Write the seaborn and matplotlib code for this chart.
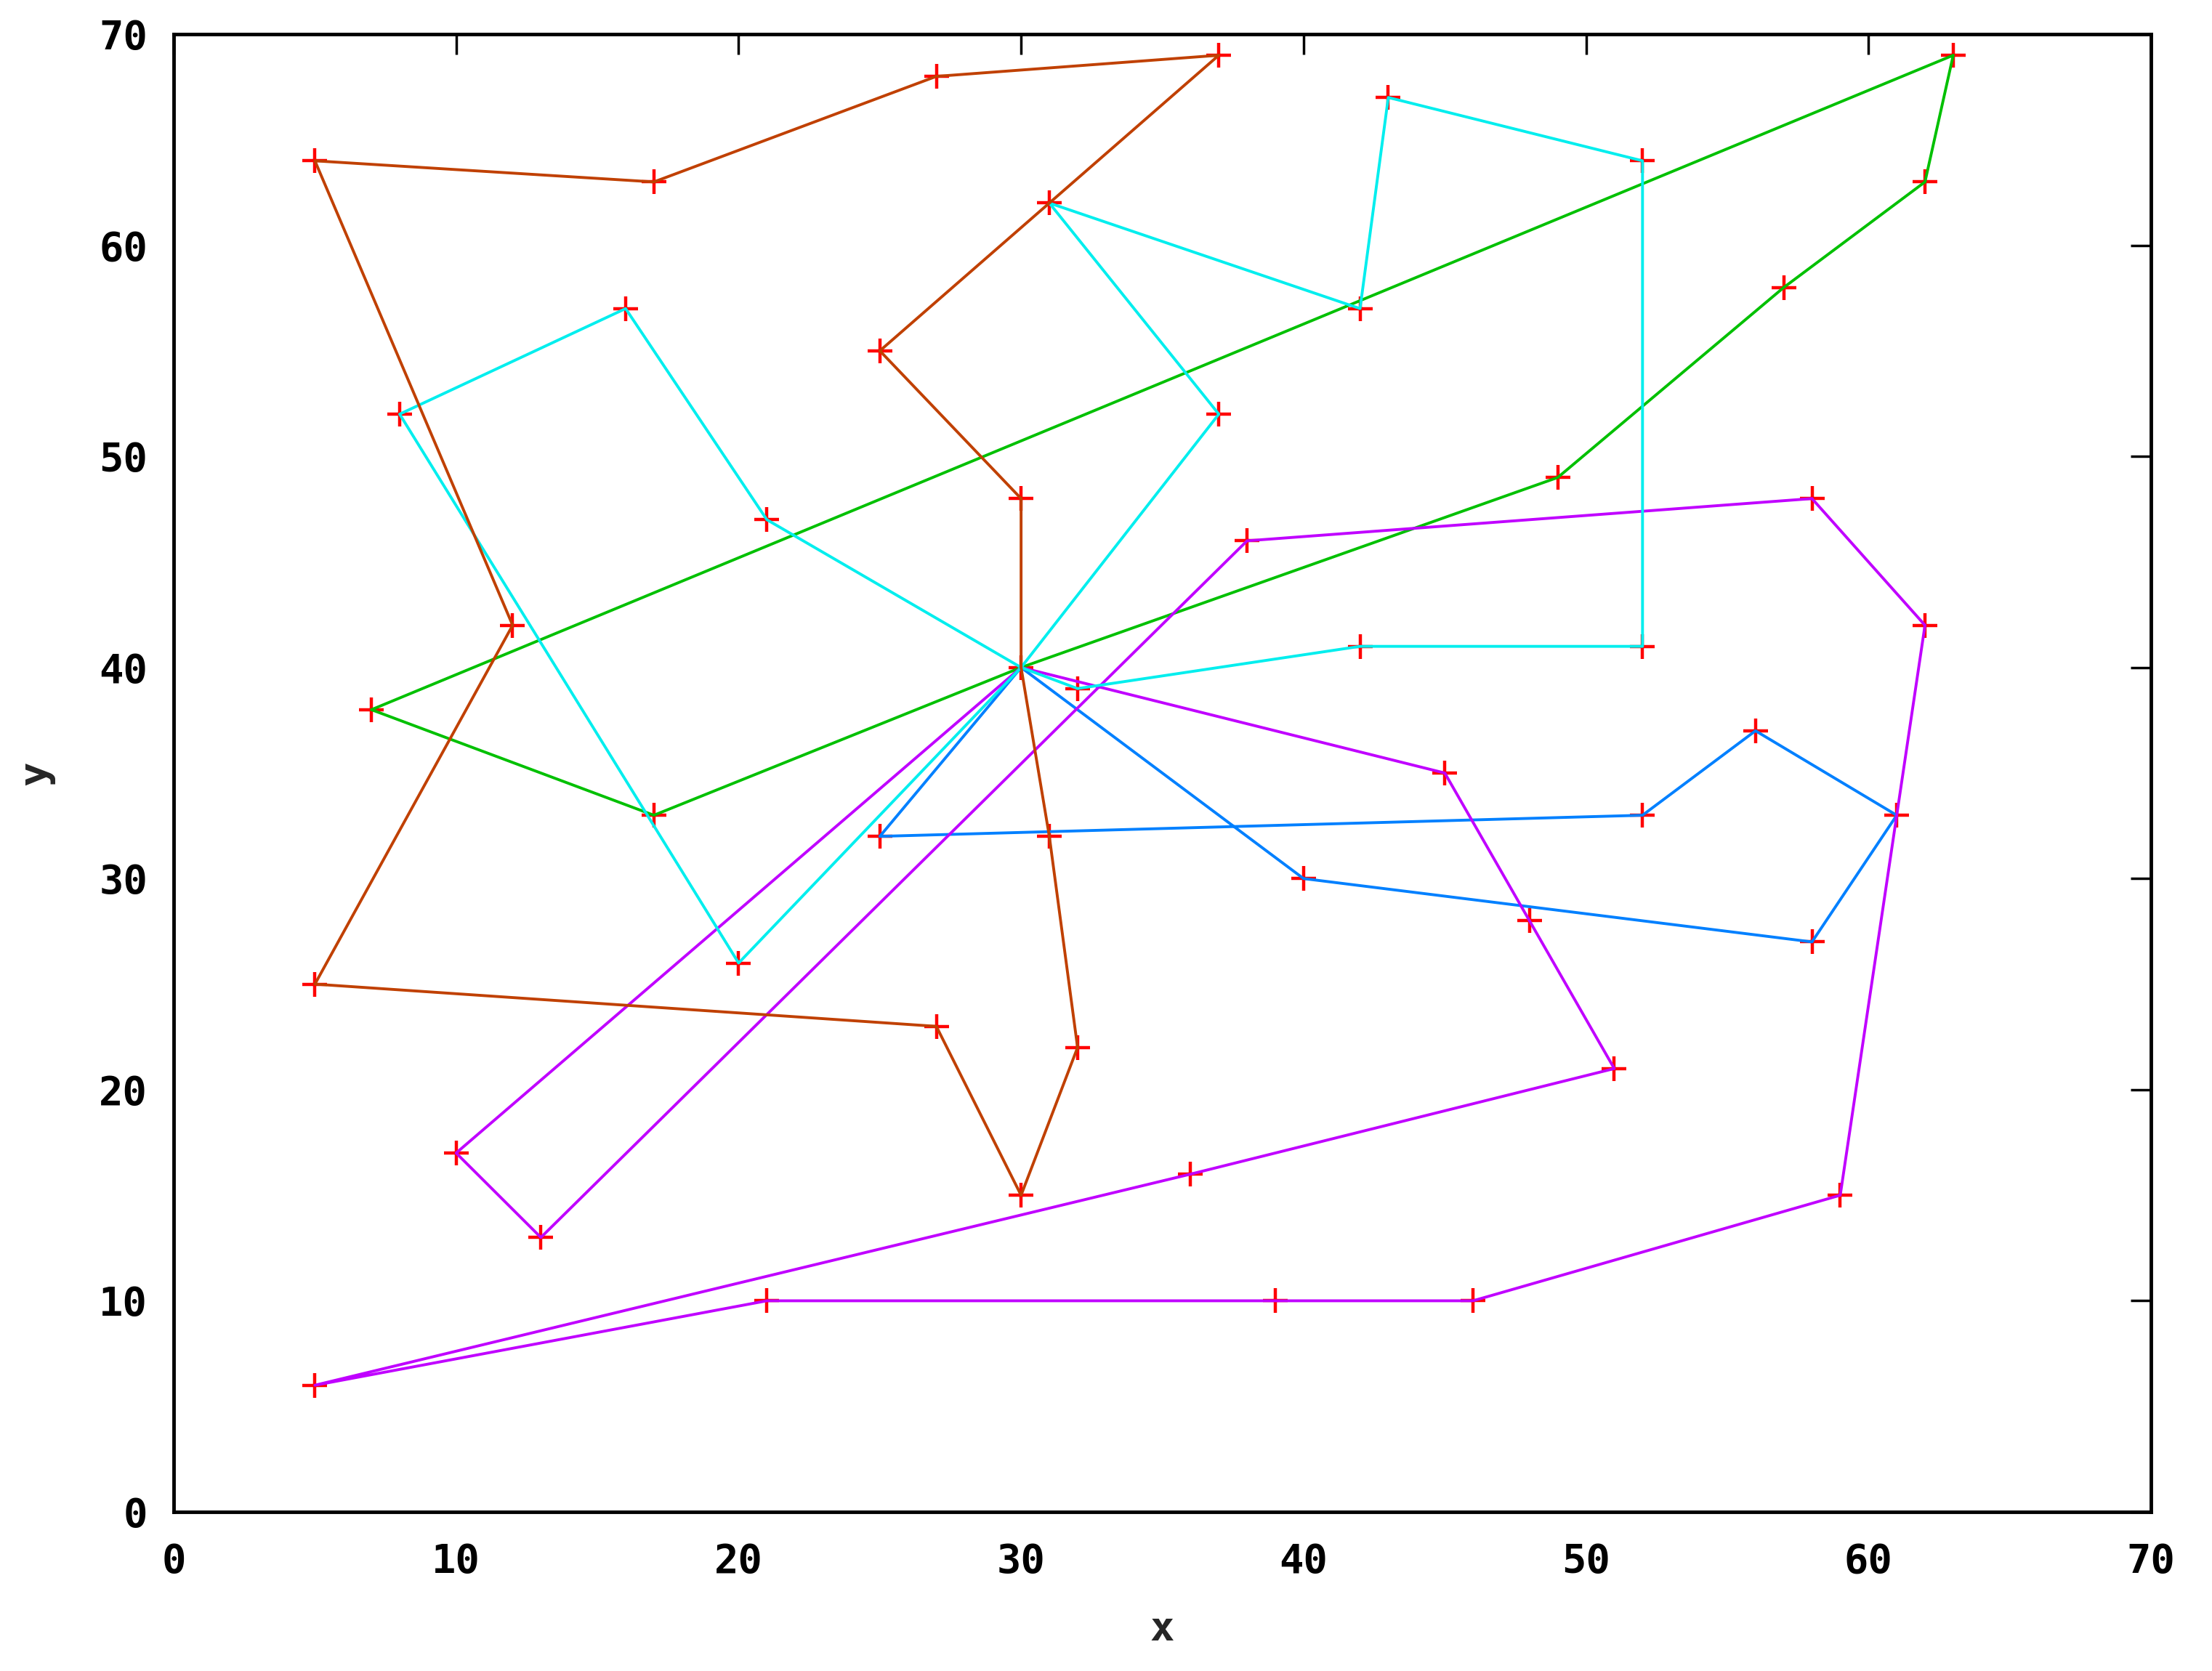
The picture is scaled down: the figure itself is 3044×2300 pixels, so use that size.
import matplotlib
matplotlib.use("Agg")
import matplotlib.pyplot as plt
import seaborn as sns
import pandas as pd

# ---- data: vehicle routes (depot at 30,40) ----
green_x = [30, 49, 57, 62, 63, 7, 17, 30]
green_y = [40, 49, 58, 63, 69, 38, 33, 40]

blue_x = [30, 40, 58, 61, 56, 52, 25, 30]
blue_y = [40, 30, 27, 33, 37, 33, 32, 40]

purple_x = [30, 45, 48, 51, 36, 5, 21, 39, 46, 59, 62, 58, 38, 13, 10, 30]
purple_y = [40, 35, 28, 21, 16, 6, 10, 10, 10, 15, 42, 48, 46, 13, 17, 40]

cyan_x = [30, 21, 16, 8, 20, 30, 37, 31, 42, 43, 52, 52, 42, 32, 30]
cyan_y = [40, 47, 57, 52, 26, 40, 52, 62, 57, 67, 64, 41, 41, 39, 40]

brown_x = [30, 30, 25, 31, 37, 27, 17, 5, 12, 5, 27, 30, 32, 31, 30]
brown_y = [40, 48, 55, 62, 69, 68, 63, 64, 42, 25, 23, 15, 22, 32, 40]

route_names = ["green", "blue", "purple", "cyan", "brown"]
route_colors = ["#00c000", "#0080ff", "#c000ff", "#00eeee", "#c04000"]
routes = [(green_x, green_y), (blue_x, blue_y), (purple_x, purple_y),
          (cyan_x, cyan_y), (brown_x, brown_y)]

ticks = [0, 10, 20, 30, 40, 50, 60, 70]

# ---- build tables ----
frames = []
for name, (xs, ys) in zip(route_names, routes):
    frames.append(pd.DataFrame({"x": xs, "y": ys, "route": name,
                                "order": range(len(xs))}))
lines_df = pd.concat(frames, ignore_index=True)
points_df = lines_df[["x", "y"]].drop_duplicates().reset_index(drop=True)

sns.set_theme(style="white")
plt.rcParams["font.family"] = ["DejaVu Sans Mono", "DejaVu Sans"]
plt.rcParams["font.weight"] = "bold"

fig = plt.figure(figsize=(30.44, 23.0), dpi=100)
ax = fig.add_axes([239 / 3044, 1 - 2081 / 2300, 2721 / 3044, 2034 / 2300])

sns.scatterplot(data=points_df, x="x", y="y", marker="+", color="#ff0000",
                s=600, linewidth=3.2, ax=ax, zorder=2, legend=False)

for name, col in zip(route_names, route_colors):
    sub = lines_df[lines_df["route"] == name]
    sns.lineplot(data=sub, x="x", y="y", sort=False, estimator=None,
                 color=col, linewidth=2.8, ax=ax, zorder=3, legend=False)

ax.set_xlim(0, 70)
ax.set_ylim(0, 70)
ax.set_xticks(ticks)
ax.set_yticks(ticks)
ax.set_xticklabels([str(t) for t in ticks])
ax.set_yticklabels([str(t) for t in ticks])
ax.tick_params(axis="both", which="major", direction="in", length=20, width=2.5,
               top=True, right=True, labelsize=40, colors="black")
ax.tick_params(axis="x", pad=30)
ax.tick_params(axis="y", pad=26)
for lab in ax.get_xticklabels() + ax.get_yticklabels():
    lab.set_fontweight("bold")
for sp in ax.spines.values():
    sp.set_visible(True)
    sp.set_color("black")
    sp.set_linewidth(3.5)
ax.grid(False)
ax.set_facecolor("white")

ax.set_xlabel("x", fontsize=40, fontweight="bold", va="center")
ax.set_ylabel("y", fontsize=40, fontweight="bold", va="center")
ax.xaxis.set_label_coords(0.5, -(2242 - 2081) / 2034)
ax.yaxis.set_label_coords(-(239 - 49) / 2721, 0.5)

fig.savefig("out.png", dpi=100, facecolor="white")
